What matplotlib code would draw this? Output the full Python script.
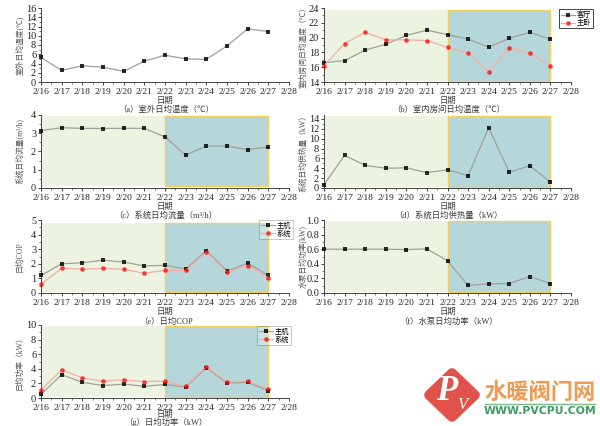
"""Seven daily-average panels of the heat pump test, with watermark."""
import matplotlib
matplotlib.use('Agg')
import matplotlib.pyplot as plt
from matplotlib.colors import to_rgba
from matplotlib.patches import Polygon
from matplotlib.ticker import AutoMinorLocator

plt.rcParams['font.family'] = ['Liberation Serif', 'Noto Sans CJK SC', 'DejaVu Sans']

W, H = 600, 426

DATES = ['2/16', '2/17', '2/18', '2/19', '2/20', '2/21', '2/22',
         '2/23', '2/24', '2/25', '2/26', '2/27', '2/28']

OUTDOOR = [5.3, 2.5, 3.5, 3.2, 2.3, 4.5, 5.8, 5.0, 4.9, 7.8, 11.5, 10.9]
LIVING = [16.6, 16.9, 18.3, 19.1, 20.3, 21.0, 20.4, 19.8, 18.7, 19.9, 20.7, 19.8]
BEDROOM = [16.2, 19.2, 20.7, 19.7, 19.7, 19.6, 18.7, 17.9, 15.4, 18.6, 17.9, 16.2]
FLOW = [3.15, 3.3, 3.27, 3.26, 3.27, 3.27, 2.8, 1.8, 2.3, 2.3, 2.1, 2.25]
HEAT = [0.7, 6.6, 4.6, 4.0, 4.1, 3.1, 3.7, 2.5, 12.2, 3.2, 4.5, 1.2]
COP_UNIT = [1.2, 2.0, 2.07, 2.25, 2.12, 1.85, 1.9, 1.65, 2.9, 1.5, 2.05, 1.2]
COP_SYS = [0.6, 1.7, 1.63, 1.68, 1.63, 1.35, 1.55, 1.55, 2.8, 1.43, 1.87, 1.05]
PUMP = [0.6, 0.6, 0.6, 0.6, 0.595, 0.605, 0.44, 0.105, 0.125, 0.13, 0.225, 0.13]
POWER_UNIT = [0.5, 3.2, 2.15, 1.7, 1.9, 1.6, 1.85, 1.5, 4.15, 2.05, 2.15, 1.0]
POWER_SYS = [1.1, 3.85, 2.75, 2.3, 2.5, 2.25, 2.3, 1.6, 4.3, 2.2, 2.35, 1.2]

TEXT = '#3a3a3a'
GREEN_BG = '#edf3e1'
TEAL_BG = '#b6d7da'
GOLD = '#f2d060'

fig = plt.figure(figsize=(W / 100, H / 100), dpi=100)


def px_axes(left, right, top, bottom):
	return fig.add_axes([left / W, 1 - bottom / H, (right - left) / W, (bottom - top) / H])


def px_text(x, y, s, **kw):
	kw.setdefault('color', TEXT)
	kw.setdefault('fontsize', 6)
	fig.text(x / W, 1 - y / H, s, ha='center', va='center', **kw)


def panel(box, ylim, yticks, ylabel, caption, cap_y, series, shade=None, legend=None, xlabel_off=18.5):
	ax = px_axes(*box)
	width = box[1] - box[0]
	height = box[3] - box[2]
	x = list(range(len(series[0][0])))
	for vals, color, marker, label in series:
		line_col = '#f0b0a8' if color != 'k' else '#a0a098'
		ax.plot(x, vals, '-' + marker, color=line_col, lw=0.9, ms=3.3, mew=0,
				mfc=to_rgba(color, 0.82 if color == 'k' else 0.75),
				zorder=4, clip_on=False, label=label)
	if shade:
		ax.axvspan(0, 6, ymin=shade[0], ymax=shade[1], color=GREEN_BG, lw=0, zorder=1)
		ax.axvspan(6, 11, ymin=shade[0], ymax=shade[1], facecolor=TEAL_BG, edgecolor=GOLD, lw=1, zorder=2)
	ax.set_xlim(0, 12)
	ax.set_ylim(*ylim)
	ax.set_xticks(range(13))
	ax.set_xticklabels(DATES)
	ax.set_yticks(yticks)
	ax.xaxis.set_minor_locator(AutoMinorLocator(2))
	ax.yaxis.set_minor_locator(AutoMinorLocator(2))
	ax.tick_params(axis='x', labelsize=6.8, length=2.5, width=0.6, pad=2, colors='#222222')
	ax.tick_params(axis='y', labelsize=7.4, length=2.5, width=0.6, pad=1, colors='#222222')
	ax.tick_params(which='minor', length=1.5, width=0.5, colors='#444444')
	for name in ('top', 'right'):
		ax.spines[name].set_visible(False)
	for name in ('left', 'bottom'):
		ax.spines[name].set_linewidth(0.7)
		ax.spines[name].set_color('#444444')
	ax.set_ylabel(ylabel, fontsize=5.6, color='#555555')
	ax.yaxis.set_label_coords(-17 / width, 0.5)
	ax.set_xlabel('日期', fontsize=6, color=TEXT, va='center')
	ax.xaxis.set_label_coords(0.5, -xlabel_off / height)
	px_text((box[0] + box[1]) / 2 + 1, cap_y, caption)
	if legend:
		leg = ax.legend(loc='upper left', bbox_to_anchor=(legend[0] / W, 1 - legend[1] / H),
						bbox_transform=fig.transFigure, fontsize=5.2, frameon=True, fancybox=False,
						framealpha=1 if legend[1] < 100 else 0.3, edgecolor='#444444',
						handlelength=1.9, labelspacing=0.1, borderpad=0.25, handletextpad=0.3, borderaxespad=0)
		leg.get_frame().set_linewidth(0.7)
		leg.set_zorder(10)
	return ax


LX = (41, 289)
RX = (324, 571)

panel((*LX, 8, 82), (0, 16), range(0, 17, 2), '室外日均温度(℃)', '（a）室外日均温度（℃）', 110,
	  [(OUTDOOR, 'k', 's', None)])
panel((*RX, 8, 82), (14, 24), range(14, 25, 2), '室内房间日均温度（℃）', '（b）室内房间日均温度（℃）', 110,
	  [(LIVING, 'k', 's', '客厅'), (BEDROOM, 'r', 'o', '主卧')], shade=(0.02, 0.97), legend=(559, 9))
panel((*LX, 115, 188), (0, 4), range(0, 5), '系统日均流量(m³/h)', '（c）系统日均流量（m³/h）', 216,
	  [(FLOW, 'k', 's', None)], shade=(0.03, 0.98), xlabel_off=19)
panel((*RX, 115, 188), (0, 14.8), range(0, 15, 2), '系统日均供热量（kW）', '（d）系统日均供热量（kW）', 216,
	  [(HEAT, 'k', 's', None)], shade=(0.01, 0.98), xlabel_off=19)
panel((*LX, 220, 293), (0, 5), range(0, 6), '日均COP', '（e）日均COP', 322,
	  [(COP_UNIT, 'k', 's', '主机'), (COP_SYS, 'r', 'o', '系统')], shade=(0.01, 0.96), legend=(259, 220), xlabel_off=19)
panel((*RX, 220, 293), (0, 1), [0, 0.2, 0.4, 0.6, 0.8, 1.0], '水泵日均功率(kW)', '（f）水泵日均功率（kW）', 322,
	  [(PUMP, 'k', 's', None)], shade=(0.02, 0.98), xlabel_off=19)
panel((*LX, 325, 398), (0, 10), range(0, 11, 2), '日均功率（kW）', '（g）日均功率（kW）', 422.5,
	  [(POWER_UNIT, 'k', 's', '主机'), (POWER_SYS, 'r', 'o', '系统')], shade=(0.01, 0.98), legend=(257, 326),
	  xlabel_off=17)

# watermark, bottom right
cx, cy = 452, 395
diamond = [((cx - 23) / W, 1 - cy / H), (cx / W, 1 - (cy - 22) / H),
		   ((cx + 23) / W, 1 - cy / H), (cx / W, 1 - (cy + 22) / H)]
fig.add_artist(Polygon(diamond, closed=True, transform=fig.transFigure, facecolor='#e2524c',
					   edgecolor='#e2524c', lw=7, joinstyle='round'))
px_text(cx - 5, cy - 3, 'P', color='white', fontsize=25, style='italic', fontweight='bold')
px_text(cx + 10, cy + 10, 'V', color='white', fontsize=12, style='italic')
px_text(540, 392, '水暖阀门网', color='#ee9a50', fontsize=16, fontweight='bold', family='Noto Sans CJK SC')
fig.add_artist(plt.Line2D([485 / W, 595 / W], [1 - 404 / H, 1 - 404 / H], color='#7fb58c', lw=1))
px_text(540, 411, 'WWW.PVCPU.COM', color='#3f9a63', fontsize=7.8, fontweight='bold', family='DejaVu Sans')

fig.savefig('out.png', dpi=100)
